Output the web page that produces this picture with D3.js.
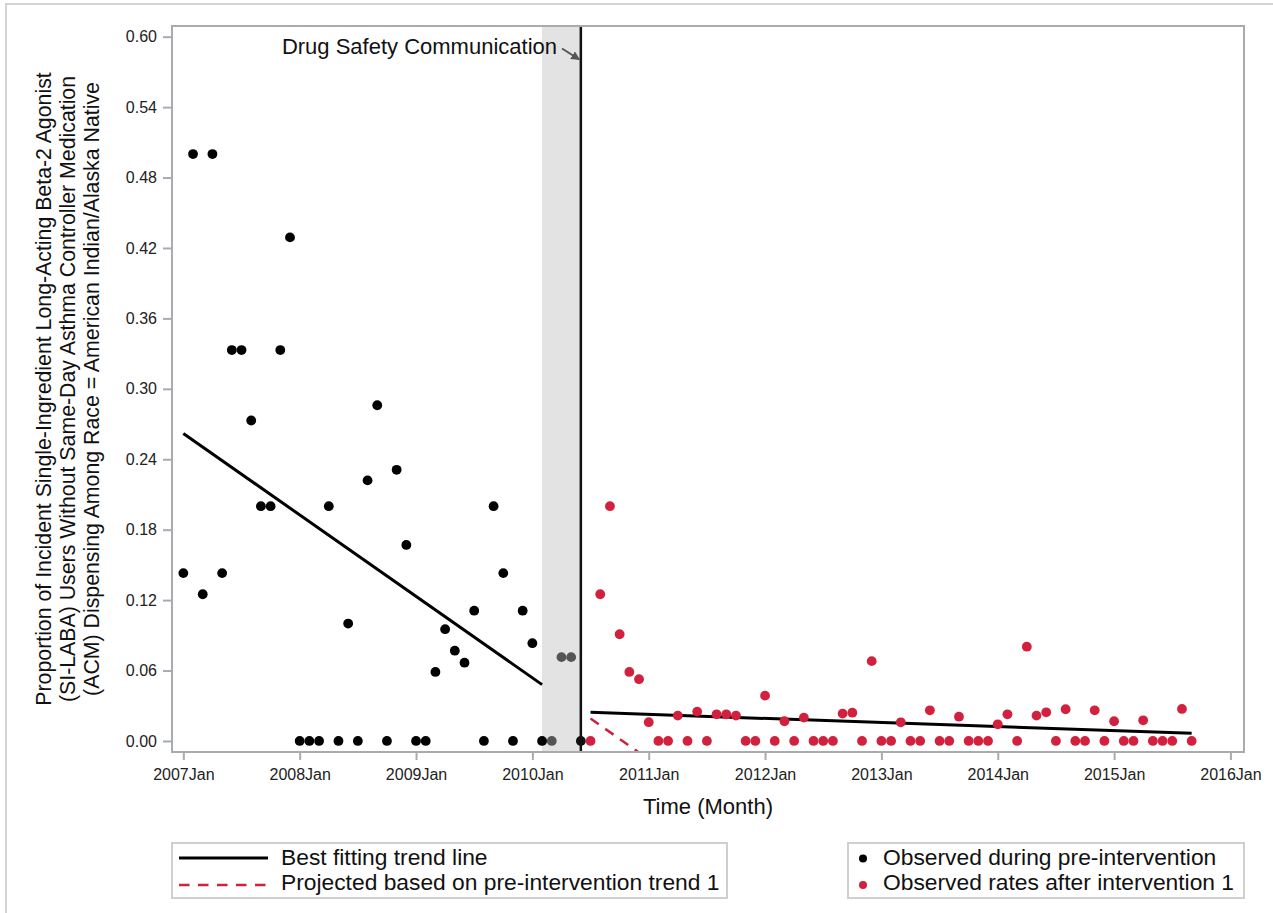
<!DOCTYPE html>
<html><head><meta charset="utf-8">
<script src="https://cdn.jsdelivr.net/npm/d3@7"></script>
<style>
html,body{margin:0;padding:0;background:#fff;}
svg text{font-family:"Liberation Sans",Arial,sans-serif;}
</style></head>
<body>
<svg id="chart" width="1273" height="913"></svg>
<script>
// ---- data (month index 0 = 2007Jan) ----
const tickLabels = ["2007Jan","2008Jan","2009Jan","2010Jan","2011Jan","2012Jan","2013Jan","2014Jan","2015Jan","2016Jan"];
const yTicks = [0.00,0.06,0.12,0.18,0.24,0.30,0.36,0.42,0.48,0.54,0.60];
const preStart = 0;
const preRates = [0.143,0.5,0.125,0.5,0.143,0.333,0.333,0.273,0.2,0.2,0.333,0.429,
  0,0,0,0.2,0,0.1,0,0.222,0.286,0,0.231,0.167,
  0,0,0.0588,0.0952,0.0769,0.0667,0.111,0,0.2,0.143,0,0.111,
  0.0833,0];
const washStart = 38;
const washRates = [0,0.0714,0.0714];
const interventionMonth = 41;
const interventionRate = [0];
const postStart = 42;
const postRates = [0,0.125,0.2,0.0909,0.0588,0.0526,0.016,0,0,0.0216,0,0.025,
  0,0.0227,0.0227,0.0216,0,0,0.0386,0,0.0168,0,0.0199,0,
  0,0,0.0233,0.0241,0,0.068,0,0,0.0159,0,0,0.0261,
  0,0,0.0207,0,0,0,0.0142,0.0227,0,0.0803,0.0216,0.0244,
  0,0.027,0,0,0.0261,0,0.0168,0,0,0.0176,0,0,
  0,0.0273,0];
const bandMonths = [37, 41];
const preTrend = [[0,0.262],[37,0.048]];
const postTrend = [[42,0.0244],[104,0.0065]];
const projMonths = [42,104];
const yTitle = ["Proportion of Incident Single-Ingredient Long-Acting Beta-2 Agonist",
  "(SI-LABA) Users Without Same-Day Asthma Controller Medication",
  "(ACM) Dispensing Among Race = American Indian/Alaska Native"];
const legendLeft = ["Best fitting trend line","Projected based on pre-intervention trend 1"];
const legendRight = ["Observed during pre-intervention","Observed rates after intervention 1"];

// ---- layout ----
const svg = d3.select("#chart");
const L=172, R=1244, T=26, B=752;
const RED="#d2213f", FRAME="#a8acb0";
const x = d3.scaleLinear().domain([-1.17,109.4]).range([L,R]);
const y = d3.scaleLinear().domain([-0.0094,0.6091]).range([B,T]);

// outer page border
svg.append("rect").attr("x",6).attr("y",4).attr("width",1300).attr("height",1000)
  .attr("fill","none").attr("stroke","#d4d4d4").attr("stroke-width",2);

svg.append("defs").append("clipPath").attr("id","clip")
  .append("rect").attr("x",L).attr("y",T).attr("width",R-L).attr("height",B-T);

// band
svg.append("rect").attr("x",x(bandMonths[0])).attr("y",T)
  .attr("width",x(bandMonths[1])-x(bandMonths[0])).attr("height",B-T).attr("fill","#e3e3e3");

// axes
const yAxis = d3.axisLeft(y).tickValues(yTicks).tickFormat(d3.format(".2f")).tickSize(9).tickPadding(6);
const gy = svg.append("g").attr("transform",`translate(${L},0)`).call(yAxis);
const xAxis = d3.axisBottom(x).tickValues(tickLabels.map((d,i)=>i*12)).tickFormat((d,i)=>tickLabels[i]).tickSize(8).tickPadding(9);
const gx = svg.append("g").attr("transform",`translate(0,${B})`).call(xAxis);
[gx,gy].forEach(g=>{
  g.select(".domain").remove();
  g.selectAll(".tick line").attr("stroke",FRAME).attr("stroke-width",2);
  g.selectAll(".tick text").attr("fill","#222").style("font-size","16px");
});

// lines
const line = d3.line().x(d=>x(d[0])).y(d=>y(d[1]));
const plot = svg.append("g").attr("clip-path","url(#clip)");
plot.append("path").datum(preTrend).attr("d",line).attr("stroke","#000").attr("stroke-width",3).attr("fill","none");
plot.append("path").datum(postTrend).attr("d",line).attr("stroke","#000").attr("stroke-width",3).attr("fill","none");
const slope = (preTrend[1][1]-preTrend[0][1])/(preTrend[1][0]-preTrend[0][0]);
const proj = projMonths.map(m=>[m, preTrend[0][1]+slope*(m-preTrend[0][0])]);
plot.append("path").datum(proj).attr("d",line).attr("stroke",RED).attr("stroke-width",2.5)
  .attr("stroke-dasharray","10,8").attr("fill","none");

// vertical intervention line
svg.append("line").attr("x1",x(interventionMonth)).attr("x2",x(interventionMonth)).attr("y1",T).attr("y2",B)
  .attr("stroke","#111").attr("stroke-width",2.5);

// points
const pts = (arr,start)=>arr.map((v,i)=>[start+i,v]);
const r=4.9;
plot.selectAll(".pre").data(pts(preRates,preStart)).join("circle").attr("cx",d=>x(d[0])).attr("cy",d=>y(d[1])).attr("r",r).attr("fill","#000");
plot.selectAll(".wash").data(pts(washRates,washStart)).join("circle").attr("cx",d=>x(d[0])).attr("cy",d=>y(d[1])).attr("r",r).attr("fill","#555");
plot.selectAll(".int").data(pts(interventionRate,interventionMonth)).join("circle").attr("cx",d=>x(d[0])).attr("cy",d=>y(d[1])).attr("r",r).attr("fill","#111");
plot.selectAll(".post").data(pts(postRates,postStart)).join("circle").attr("cx",d=>x(d[0])).attr("cy",d=>y(d[1])).attr("r",r).attr("fill",RED);

// frame
svg.append("rect").attr("x",L).attr("y",T).attr("width",R-L).attr("height",B-T)
  .attr("fill","none").attr("stroke",FRAME).attr("stroke-width",2);

// annotation
svg.append("text").attr("x",557).attr("y",54).attr("text-anchor","end").style("font-size","22px").attr("fill","#111")
  .text("Drug Safety Communication");
svg.select("defs").append("marker").attr("id","arr").attr("viewBox","0 0 10 10").attr("refX",9).attr("refY",5)
  .attr("markerWidth",4.5).attr("markerHeight",4.5).attr("orient","auto")
  .append("path").attr("d","M0,0L10,5L0,10z").attr("fill","#555");
svg.append("line").attr("x1",562).attr("y1",48.5).attr("x2",x(interventionMonth)-1.5).attr("y2",59.5)
  .attr("stroke","#555").attr("stroke-width",2).attr("marker-end","url(#arr)");

// axis titles
svg.append("text").attr("x",(L+R)/2).attr("y",814).attr("text-anchor","middle").style("font-size","22px").attr("fill","#111").text("Time (Month)");
const cy=(T+B)/2;
yTitle.forEach((t,i)=>{
  svg.append("text").attr("transform",`translate(${51+i*24},${cy}) rotate(-90)`).attr("text-anchor","middle")
    .style("font-size","21.3px").attr("fill","#111").text(t);
});

// legends
const LEG="#cfcfcf";
svg.append("rect").attr("x",172).attr("y",843).attr("width",555).attr("height",55).attr("fill","#fff").attr("stroke",LEG).attr("stroke-width",2);
svg.append("rect").attr("x",848).attr("y",843).attr("width",396).attr("height",55).attr("fill","#fff").attr("stroke",LEG).attr("stroke-width",2);
svg.append("line").attr("x1",179).attr("x2",268).attr("y1",858).attr("y2",858).attr("stroke","#000").attr("stroke-width",3);
svg.append("line").attr("x1",179).attr("x2",268).attr("y1",885).attr("y2",885).attr("stroke",RED).attr("stroke-width",2.5).attr("stroke-dasharray","10.5,8.5");
legendLeft.forEach((t,i)=>svg.append("text").attr("x",281).attr("y",865+i*25).style("font-size","22.8px").attr("fill","#111").text(t));
[["#000"],[RED]].forEach((c,i)=>svg.append("circle").attr("cx",863).attr("cy",858.5+i*26.5).attr("r",4).attr("fill",c[0]));
legendRight.forEach((t,i)=>svg.append("text").attr("x",883).attr("y",865+i*25).style("font-size","22.8px").attr("fill","#111").text(t));
</script>
</body></html>
